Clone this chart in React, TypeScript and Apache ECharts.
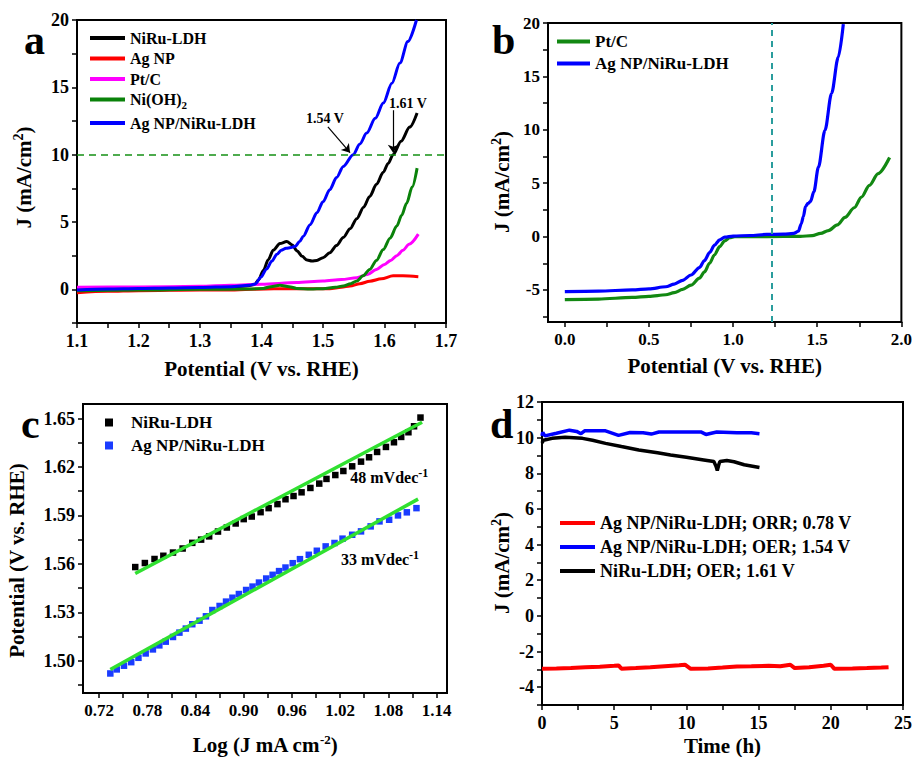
import React, { useEffect, useRef } from 'react';
import * as echarts from 'echarts';

const FONT = '"Liberation Serif", "Times New Roman", serif';

// ---------- Panel a : LSV (OER) ----------
const aNiRu = [[1.1,-0.05],[1.15,0],[1.2,0.05],[1.25,0.08],[1.3,0.12],[1.35,0.18],[1.375,0.25],[1.389,0.35],[1.395,0.7],[1.403,1.4],[1.411,2.2],[1.419,2.9],[1.43,3.4],[1.441,3.55],[1.45,3.3],[1.458,2.85],[1.466,2.45],[1.474,2.18],[1.482,2.1],[1.49,2.15],[1.5,2.35],[1.511,2.72],[1.522,3.25],[1.533,3.85],[1.544,4.5],[1.555,5.25],[1.566,6.1],[1.576,6.9],[1.587,7.8],[1.598,8.7],[1.606,9.35],[1.614,10.0],[1.627,11.0],[1.641,12.05],[1.653,13.1]];
const aAgNP = [[1.1,-0.25],[1.15,-0.15],[1.2,-0.1],[1.3,-0.05],[1.35,-0.05],[1.42,0.05],[1.511,0.05],[1.53,0.15],[1.544,0.25],[1.56,0.42],[1.576,0.6],[1.595,0.78],[1.614,1.0],[1.63,1.0],[1.655,0.94]];
const aPtC = [[1.1,0.15],[1.2,0.18],[1.3,0.22],[1.35,0.3],[1.4,0.38],[1.457,0.5],[1.5,0.62],[1.53,0.73],[1.555,0.86],[1.572,1.1],[1.587,1.48],[1.6,1.85],[1.61,2.15],[1.62,2.5],[1.63,2.9],[1.64,3.35],[1.655,4.1]];
const aNiOH = [[1.1,-0.1],[1.2,-0.05],[1.3,0],[1.38,0.02],[1.403,0.07],[1.415,0.2],[1.43,0.3],[1.445,0.2],[1.457,0.07],[1.48,0.02],[1.5,0.05],[1.52,0.15],[1.533,0.25],[1.545,0.42],[1.555,0.62],[1.565,1.0],[1.576,1.48],[1.587,2.15],[1.598,2.96],[1.609,3.8],[1.62,4.7],[1.628,5.5],[1.636,6.4],[1.645,7.6],[1.653,9.0]];
const aAgNiRu = [[1.1,-0.05],[1.15,0.02],[1.2,0.06],[1.25,0.1],[1.3,0.13],[1.35,0.2],[1.38,0.3],[1.39,0.4],[1.399,0.9],[1.408,1.5],[1.417,2.1],[1.425,2.6],[1.432,2.9],[1.44,3.05],[1.448,3.1],[1.455,3.2],[1.462,3.55],[1.468,3.95],[1.479,4.8],[1.49,5.68],[1.5,6.5],[1.511,7.4],[1.522,8.3],[1.533,9.13],[1.549,10.0],[1.56,10.8],[1.571,11.6],[1.585,12.7],[1.598,13.83],[1.612,15.3],[1.625,16.8],[1.638,18.4],[1.652,20.0]];
const aXTicks = [1.1,1.15,1.2,1.25,1.3,1.35,1.4,1.45,1.5,1.55,1.6,1.65,1.7];
const aXLabels = [1.1,1.2,1.3,1.4,1.5,1.6,1.7];
const aYTicks = [-2.5,0,2.5,5,7.5,10,12.5,15,17.5,20];
const aYLabels = [0,5,10,15,20];

// ---------- Panel b : ORR + OER ----------
const bPtC = [[0,-5.9],[0.2,-5.85],[0.4,-5.7],[0.5,-5.6],[0.6,-5.45],[0.65,-5.25],[0.7,-4.95],[0.75,-4.55],[0.8,-3.9],[0.83,-3.3],[0.86,-2.5],[0.89,-1.7],[0.92,-0.95],[0.95,-0.4],[0.98,-0.1],[1.01,0],[1.2,0],[1.4,0.02],[1.47,0.09],[1.52,0.3],[1.566,0.56],[1.62,1.1],[1.665,1.8],[1.72,2.7],[1.763,3.7],[1.81,4.8],[1.862,5.9],[1.93,7.4]];
const bAgNiRu = [[0,-5.15],[0.2,-5.1],[0.4,-5.0],[0.5,-4.9],[0.6,-4.7],[0.65,-4.45],[0.7,-4.1],[0.75,-3.6],[0.8,-2.9],[0.83,-2.25],[0.86,-1.5],[0.89,-0.8],[0.92,-0.3],[0.95,-0.05],[1.0,0.05],[1.1,0.1],[1.2,0.2],[1.3,0.22],[1.36,0.3],[1.388,0.5],[1.405,1.2],[1.418,1.9],[1.43,2.8],[1.445,3.1],[1.46,3.3],[1.48,4.2],[1.507,6.5],[1.546,9.95],[1.585,13.4],[1.625,16.8],[1.655,19.9]];
const bXTicks = [0,0.25,0.5,0.75,1,1.25,1.5,1.75,2];
const bXLabels = [0,0.5,1,1.5,2];
const bYTicks = [-7.5,-5,-2.5,0,2.5,5,7.5,10,12.5,15,17.5,20];
const bYLabels = [-5,0,5,10,15,20];
const bRefLine = 1.23;

// ---------- Panel c : Tafel ----------
const cNiRu = [[0.765,1.558],[0.777,1.5605],[0.789,1.563],[0.8,1.565],[0.812,1.567],[0.824,1.5695],[0.836,1.573],[0.847,1.575],[0.857,1.577],[0.868,1.58],[0.879,1.5825],[0.89,1.585],[0.9,1.5877],[0.91,1.5893],[0.921,1.592],[0.931,1.5945],[0.942,1.597],[0.952,1.6],[0.962,1.602],[0.972,1.6043],[0.983,1.607],[0.994,1.6097],[1.003,1.6126],[1.014,1.615],[1.024,1.6175],[1.035,1.6204],[1.046,1.6233],[1.056,1.626],[1.066,1.6293],[1.077,1.6324],[1.087,1.6353],[1.096,1.6386],[1.105,1.6415],[1.112,1.6452],[1.12,1.6506]];
const cAgNiRu = [[0.734,1.4921],[0.742,1.4946],[0.751,1.4969],[0.76,1.4991],[0.769,1.5018],[0.778,1.5045],[0.787,1.507],[0.795,1.5095],[0.803,1.5118],[0.812,1.5147],[0.82,1.5174],[0.828,1.5199],[0.836,1.5226],[0.845,1.5248],[0.853,1.5275],[0.861,1.5314],[0.87,1.5339],[0.878,1.5366],[0.886,1.539],[0.894,1.5413],[0.903,1.5438],[0.911,1.5459],[0.919,1.5484],[0.928,1.5509],[0.936,1.5532],[0.944,1.5555],[0.952,1.5577],[0.961,1.5604],[0.97,1.5629],[0.981,1.5656],[0.991,1.5681],[1.002,1.5708],[1.013,1.5729],[1.023,1.5756],[1.035,1.578],[1.046,1.5801],[1.058,1.5832],[1.069,1.5863],[1.081,1.5873],[1.092,1.59],[1.103,1.5919],[1.115,1.5945]];
const cFitNiRu = [[0.765,1.554],[1.122,1.6477]];
const cFitAgNiRu = [[0.734,1.4946],[1.117,1.6001]];
const cXTicks = [0.72,0.75,0.78,0.81,0.84,0.87,0.9,0.93,0.96,0.99,1.02,1.05,1.08,1.11,1.14];
const cXLabels = [0.72,0.78,0.84,0.9,0.96,1.02,1.08,1.14];
const cYTicks = [1.485,1.5,1.515,1.53,1.545,1.56,1.575,1.59,1.605,1.62,1.635,1.65];
const cYLabels = [1.5,1.53,1.56,1.59,1.62,1.65];

// ---------- Panel d : stability ----------
const dORR = [[0,-2.97],[1,-2.95],[2,-2.92],[3,-2.88],[4,-2.85],[5,-2.8],[5.3,-2.78],[5.5,-2.96],[6.5,-2.93],[7.5,-2.88],[8.5,-2.82],[9.5,-2.77],[9.9,-2.74],[10.3,-2.97],[11.5,-2.95],[12.5,-2.9],[13.5,-2.84],[14.5,-2.83],[15.7,-2.8],[16.5,-2.82],[17.2,-2.74],[17.5,-2.93],[18.5,-2.88],[19.5,-2.8],[20.0,-2.74],[20.25,-2.97],[21.5,-2.95],[22.5,-2.93],[23.5,-2.9],[24.0,-2.88]];
const dOERAg = [[0,10.1],[0.05,10.3],[0.2,10.1],[1,10.25],[1.9,10.42],[2.4,10.35],[2.7,10.22],[2.95,10.38],[4.4,10.38],[5.3,10.13],[6.1,10.29],[7,10.27],[7.57,10.2],[8.1,10.32],[9.5,10.32],[11.0,10.32],[11.35,10.18],[12.1,10.32],[13.5,10.28],[14.5,10.27],[15.06,10.22]];
const dOERNiRu = [[0,9.7],[0.1,9.85],[0.7,9.96],[1.6,10.02],[2.8,9.96],[3.5,9.85],[4.4,9.68],[5.5,9.5],[6.7,9.31],[8,9.15],[8.9,9.03],[10,8.9],[11.2,8.75],[11.9,8.66],[12.05,8.4],[12.14,8.15],[12.25,8.5],[12.32,8.66],[12.8,8.72],[13.3,8.65],[14,8.48],[15.06,8.33]];
const dXTicks = [0,2.5,5,7.5,10,12.5,15,17.5,20,22.5,25];
const dXLabels = [0,5,10,15,20,25];
const dYTicks = [-5,-4,-3,-2,-1,0,1,2,3,4,5,6,7,8,9,10,11,12];
const dYLabels = [-4,-2,0,2,4,6,8,10,12];

const txt = (size: number, extra: any = {}) => ({
  fontFamily: FONT, fontWeight: 'bold', fontSize: size, color: '#000', ...extra,
});
const supRich = (size: number) => ({
  sup: { fontFamily: FONT, fontWeight: 'bold', fontSize: size, color: '#000', padding: [0, 0, size * 0.8, 0] },
});

function axis(kind: 'x' | 'y', idx: number, min: number, max: number, ticks: number[], labels: number[], dec: number,
  fs: number, name: string, nameGap: number, namePad: number[] = [0, 0, 0, 0], rich: any = {}) {
  return {
    type: 'value', gridIndex: idx, min, max,
    axisLine: { show: true, onZero: false, lineStyle: { color: '#000', width: 2 } },
    axisTick: { show: true, customValues: ticks, length: 5, lineStyle: { color: '#000', width: 1.5 } },
    axisLabel: { customValues: labels, formatter: (v: number) => v.toFixed(dec), margin: kind === 'x' ? 9 : 8, ...txt(fs) },
    splitLine: { show: false },
    name, nameLocation: 'middle', nameGap,
    nameTextStyle: { ...txt(21), padding: namePad, rich },
  };
}

const lineS = (name: string, data: number[][], color: string, xi: number, width = 3, extra: any = {}) => ({
  type: 'line', name, data, xAxisIndex: xi, yAxisIndex: xi, symbol: 'none',
  smooth: 0.3, smoothMonotone: 'x',
  lineStyle: { color, width }, itemStyle: { color }, z: 3, ...extra,
});

const stripName = (n: string) => {
  const s = n.split('|')[1];
  if (s === 'Ni(OH)2') return 'Ni(OH){s|2}';
  return s;
};

export default function App() {
  const ref = useRef<HTMLDivElement>(null);
  useEffect(() => {
    if (!ref.current) return;
    const chart = echarts.init(ref.current, null, { renderer: 'svg' });
    const grid = (left: number, top: number, width: number, height: number) => ({
      left, top, width, height, show: true, borderColor: '#000', borderWidth: 2, backgroundColor: 'transparent',
    });
    const option: any = {
      animation: false,
      backgroundColor: '#fff',
      grid: [grid(77, 20, 369, 303), grid(548, 23, 357, 299), grid(83, 404, 364, 289), grid(542, 402, 364, 305)],
      xAxis: [
        axis('x', 0, 1.1, 1.7, aXTicks, aXLabels, 1, 18, 'Potential (V vs. RHE)', 35),
        axis('x', 1, -0.1, 2.0, bXTicks, bXLabels, 1, 17, 'Potential (V vs. RHE)', 33),
        axis('x', 2, 0.7, 1.153, cXTicks, cXLabels, 2, 17, 'Log (J mA cm{sup|-2})', 40, [0, 0, 0, 0], supRich(13)),
        axis('x', 3, 0, 25, dXTicks, dXLabels, 0, 18, 'Time (h)', 30),
      ],
      yAxis: [
        axis('y', 0, -2.5, 20, aYTicks, aYLabels, 0, 18, 'J (mA/cm{sup|2})', 40, [0, 12, 0, 0], supRich(14)),
        axis('y', 1, -8, 20, bYTicks, bYLabels, 0, 17, 'J (mA/cm{sup|2})', 33, [0, 19, 0, 0], supRich(14)),
        axis('y', 2, 1.48, 1.659, cYTicks, cYLabels, 2, 18, 'Potential (V vs. RHE)', 56, [0, 24, 0, 0]),
        axis('y', 3, -5, 12, dYTicks, dYLabels, 0, 18, 'J (mA/cm{sup|2})', 27, [0, 19, 0, 0], supRich(14)),
      ],
      legend: [
        {
          data: ['a|NiRu-LDH', 'a|Ag NP', 'a|Pt/C', 'a|Ni(OH)2', 'a|Ag NP/NiRu-LDH'],
          left: 90, top: 30, orient: 'vertical', padding: 0, itemWidth: 35, itemHeight: 4, itemGap: 4.5,
          icon: 'rect', selectedMode: false, formatter: stripName,
          textStyle: { ...txt(16), lineHeight: 16, rich: { s: { fontFamily: FONT, fontWeight: 'bold', fontSize: 11, color: '#000', padding: [11, 0, 0, 0] } } },
        },
        {
          data: ['b|Pt/C', 'b|Ag NP/NiRu-LDH'],
          left: 557, top: 33, orient: 'vertical', padding: 0, itemWidth: 33, itemHeight: 4, itemGap: 5,
          icon: 'rect', selectedMode: false, formatter: stripName, textStyle: { ...txt(17), lineHeight: 17 },
        },
        {
          data: ['c|NiRu-LDH', 'c|Ag NP/NiRu-LDH'],
          left: 105, top: 414, orient: 'vertical', padding: 0, itemWidth: 8, itemHeight: 8, itemGap: 6,
          icon: 'rect', selectedMode: false, formatter: stripName, textStyle: { ...txt(17), lineHeight: 17, padding: [0, 0, 0, 13] },
        },
        {
          data: ['d|Ag NP/NiRu-LDH; ORR; 0.78 V', 'd|Ag NP/NiRu-LDH; OER; 1.54 V', 'd|NiRu-LDH; OER; 1.61 V'],
          left: 560, top: 514, orient: 'vertical', padding: 0, itemWidth: 35, itemHeight: 4, itemGap: 6,
          icon: 'rect', selectedMode: false, formatter: stripName, textStyle: { ...txt(18), lineHeight: 18 },
        },
      ],
      series: [
        // panel a
        lineS('a|NiRu-LDH', aNiRu, '#000000', 0, 3, {
          markLine: {
            silent: true, symbol: ['none', 'arrow'], symbolSize: 8, label: { show: false },
            lineStyle: { color: '#000', width: 1.2, type: 'solid' },
            data: [
              [{ coord: [1.508, 12.07] }, { coord: [1.544, 10.15] }],
              [{ coord: [1.614, 13.3] }, { coord: [1.614, 10.15] }],
            ],
          },
          markPoint: {
            silent: true, symbol: 'rect', symbolSize: 1, itemStyle: { color: 'rgba(0,0,0,0)' },
            label: { show: true, position: 'inside', formatter: '{b}', ...txt(14) },
            data: [
              { name: '1.54 V', coord: [1.503, 12.7] },
              { name: '1.61 V', coord: [1.638, 13.8] },
            ],
          },
        }),
        lineS('a|Ag NP', aAgNP, '#ff0000', 0),
        lineS('a|Pt/C', aPtC, '#ff00ff', 0),
        lineS('a|Ni(OH)2', aNiOH, '#0a820a', 0, 3, {
          markLine: {
            silent: true, symbol: 'none', label: { show: false },
            lineStyle: { color: '#159015', width: 1.6, type: [7, 5] },
            data: [{ yAxis: 10 }],
          },
        }),
        lineS('a|Ag NP/NiRu-LDH', aAgNiRu, '#0000ff', 0),
        // panel b
        lineS('b|Pt/C', bPtC, '#128812', 1, 3.2, {
          markLine: {
            silent: true, symbol: 'none', label: { show: false },
            lineStyle: { color: '#2a9d9d', width: 2, type: [6, 5] },
            data: [{ xAxis: bRefLine }],
          },
        }),
        lineS('b|Ag NP/NiRu-LDH', bAgNiRu, '#0000ff', 1, 3.2),
        // panel c
        {
          type: 'scatter', name: 'c|NiRu-LDH', data: cNiRu, xAxisIndex: 2, yAxisIndex: 2,
          symbol: 'rect', symbolSize: 6.5, itemStyle: { color: '#000', opacity: 1 },
        },
        {
          type: 'scatter', name: 'c|Ag NP/NiRu-LDH', data: cAgNiRu, xAxisIndex: 2, yAxisIndex: 2,
          symbol: 'rect', symbolSize: 6.5, itemStyle: { color: '#1a3cff', opacity: 1 },
        },
        {
          type: 'line', name: 'fit1', data: cFitNiRu, xAxisIndex: 2, yAxisIndex: 2, symbol: 'none',
          lineStyle: { color: '#30e030', width: 3.5 }, itemStyle: { color: '#30e030' }, z: 4,
          markPoint: {
            silent: true, symbol: 'rect', symbolSize: 1, itemStyle: { color: 'rgba(0,0,0,0)' },
            label: { show: true, position: 'right', distance: 0, formatter: '48 mVdec{sup|-1}', ...txt(16), rich: supRich(12) },
            data: [{ coord: [1.032, 1.6134] }],
          },
        },
        {
          type: 'line', name: 'fit2', data: cFitAgNiRu, xAxisIndex: 2, yAxisIndex: 2, symbol: 'none',
          lineStyle: { color: '#30e030', width: 3.5 }, itemStyle: { color: '#30e030' }, z: 4,
          markPoint: {
            silent: true, symbol: 'rect', symbolSize: 1, itemStyle: { color: 'rgba(0,0,0,0)' },
            label: { show: true, position: 'right', distance: 0, formatter: '33 mVdec{sup|-1}', ...txt(16), rich: supRich(12) },
            data: [{ coord: [1.0206, 1.5625] }],
          },
        },
        // panel d
        { ...lineS('d|Ag NP/NiRu-LDH; ORR; 0.78 V', dORR, '#ff0000', 3, 4), smooth: false },
        { ...lineS('d|Ag NP/NiRu-LDH; OER; 1.54 V', dOERAg, '#0000ff', 3, 3.5), smooth: false },
        { ...lineS('d|NiRu-LDH; OER; 1.61 V', dOERNiRu, '#000000', 3, 3.5), smooth: false },
      ],
      graphic: [
        { type: 'text', left: 24, top: 19, style: { text: 'a', ...txtG(42) } },
        { type: 'text', left: 492, top: 19, style: { text: 'b', ...txtG(42) } },
        { type: 'text', left: 21, top: 403, style: { text: 'c', ...txtG(42) } },
        { type: 'text', left: 490, top: 403, style: { text: 'd', ...txtG(42) } },
      ],
    };
    chart.setOption(option);
    return () => chart.dispose();
  }, []);
  return <div ref={ref} style={{ position: 'fixed', left: 0, top: 0, width: 915, height: 757 }} />;
}

function txtG(size: number) {
  return { font: `bold ${size}px ${FONT}`, fill: '#000' };
}
